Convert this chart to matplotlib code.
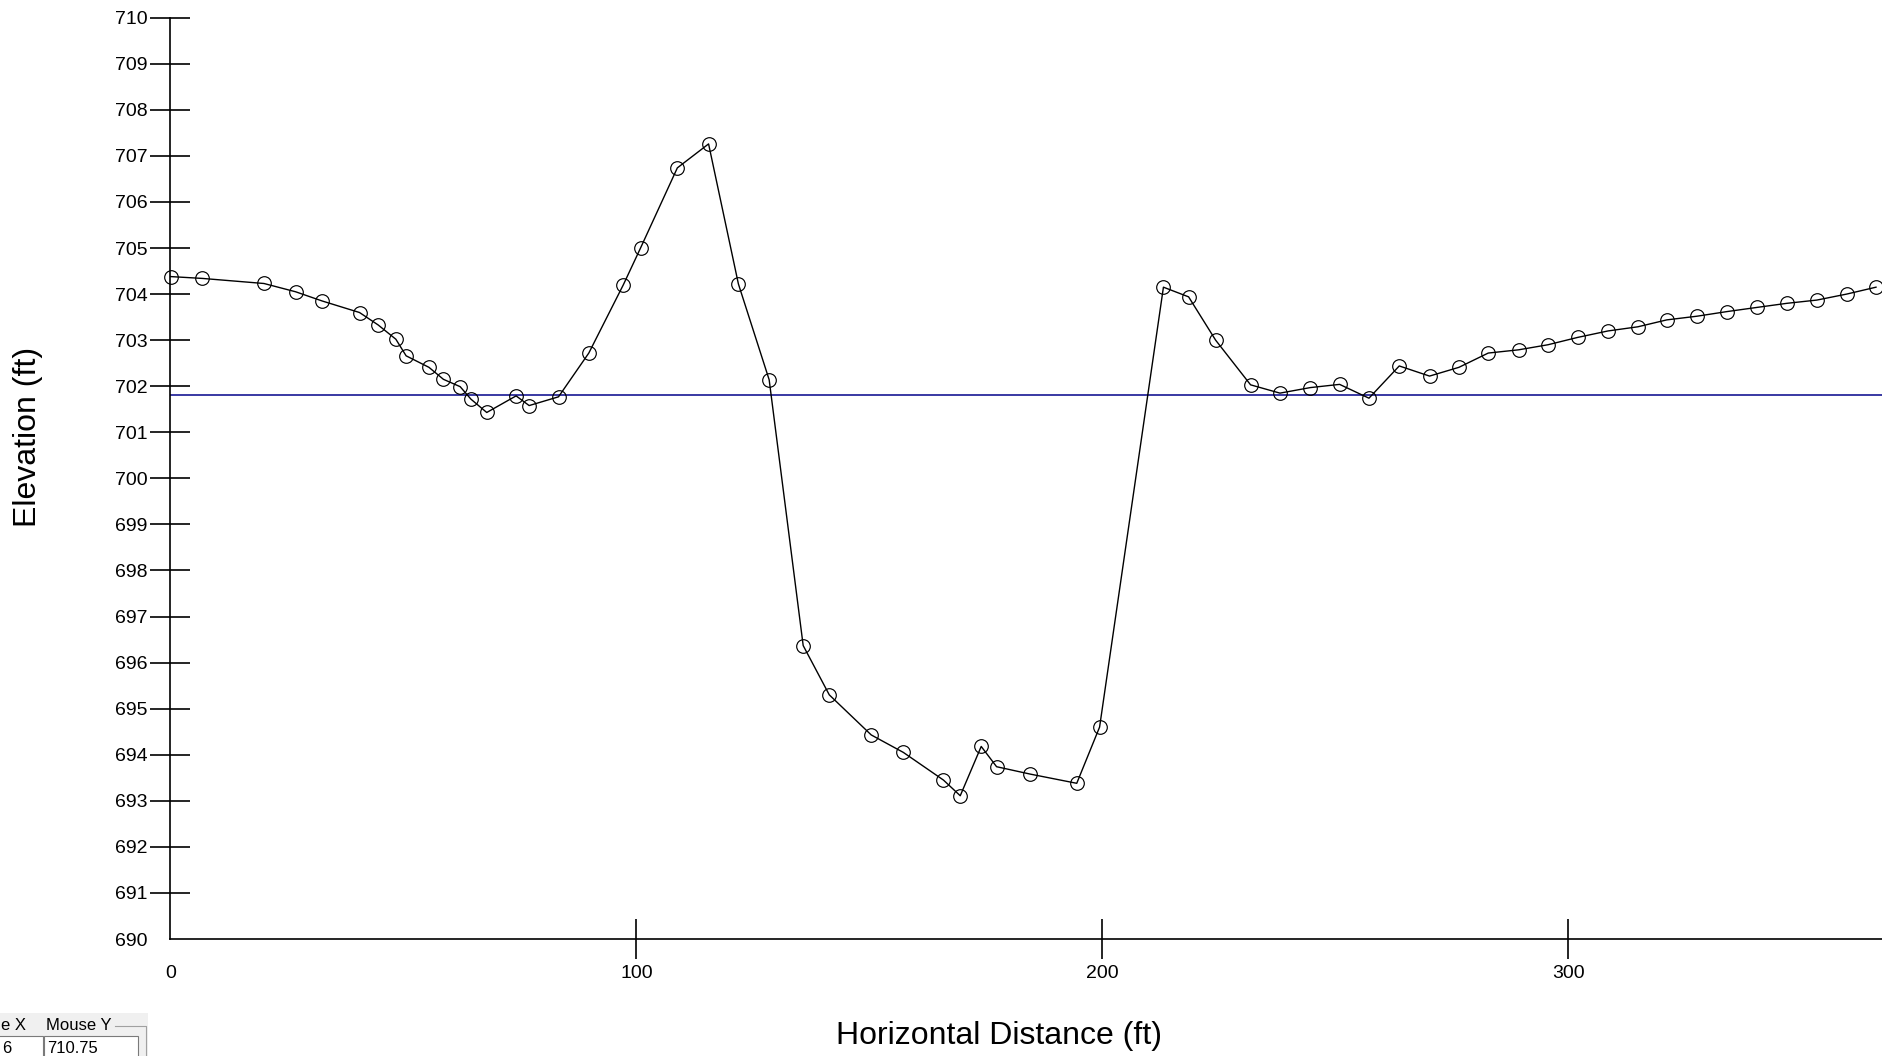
import matplotlib
matplotlib.use("Agg")
import matplotlib.pyplot as plt
from matplotlib.patches import Rectangle
from matplotlib.lines import Line2D

# ---- data ----
station = [0.1, 6.9, 20.1, 26.9, 32.6, 40.6, 44.6, 48.4, 50.6, 55.5, 58.6, 62.2,
           64.5, 67.9, 74.2, 77.0, 83.3, 89.8, 97.2, 100.9, 108.8, 115.5, 121.9,
           128.5, 135.8, 141.4, 150.4, 157.3, 165.9, 169.5, 174.0, 177.3, 184.5,
           194.5, 199.4, 213.1, 218.5, 224.3, 231.8, 238.1, 244.6, 250.9, 257.2,
           263.7, 270.2, 276.5, 282.8, 289.3, 295.6, 302.0, 308.5, 314.9, 321.1,
           327.6, 334.0, 340.4, 346.9, 353.3, 359.7, 366.0]
elevation = [704.38, 704.34, 704.23, 704.05, 703.85, 703.60, 703.33, 703.02,
             702.66, 702.41, 702.15, 701.99, 701.72, 701.43, 701.79, 701.58,
             701.77, 702.72, 704.20, 705.00, 706.74, 707.26, 704.22, 702.14,
             696.37, 695.30, 694.43, 694.05, 693.45, 693.11, 694.18, 693.74,
             693.58, 693.38, 694.60, 704.15, 703.94, 703.00, 702.03, 701.85,
             701.97, 702.04, 701.74, 702.44, 702.22, 702.41, 702.72, 702.79,
             702.90, 703.06, 703.20, 703.29, 703.44, 703.52, 703.62, 703.71,
             703.80, 703.87, 704.00, 704.15]
water_level = 701.80
x_ticks = [0, 100, 200, 300]
y_ticks = list(range(690, 711))
x_label = "Horizontal Distance (ft)"
y_label = "Elevation (ft)"

W, H = 1883, 1056
plt.rcParams['font.family'] = ['Liberation Sans', 'DejaVu Sans']
fig = plt.figure(figsize=(W / 100, H / 100), dpi=100)
fig.patch.set_facecolor('white')

left = 170.3 / W
bottom = 1 - 939 / H
top = 1 - 17.7 / H
ax = fig.add_axes([left, bottom, 1 - left, top - bottom])
ax.set_facecolor('white')

ax.axhline(water_level, color='#2a2a9c', lw=1.3, zorder=2)
ax.plot(station, elevation, color='black', lw=1.0, marker='o', markersize=9.8,
        markerfacecolor='none', markeredgecolor='black', markeredgewidth=0.85,
        zorder=3, clip_on=False)

ax.set_xlim(0, 367.5)
ax.set_ylim(690, 710)
ax.set_xticks(x_ticks)
ax.set_yticks(y_ticks)
ax.set_xticklabels([str(v) for v in x_ticks])
ax.set_yticklabels([str(v) for v in y_ticks])

for s in ['top', 'right']:
    ax.spines[s].set_visible(False)
for s in ['left', 'bottom']:
    ax.spines[s].set_linewidth(1.2)
    ax.spines[s].set_color('black')

ax.tick_params(axis='both', direction='inout', length=28.8, width=1.2,
               colors='black', labelsize=14)
ax.tick_params(axis='y', pad=2)
ax.tick_params(axis='x', pad=4)
# the reference draws no tick mark at the axis origin
ax.yaxis.get_major_ticks()[0].tick1line.set_visible(False)
ax.xaxis.get_major_ticks()[0].tick1line.set_visible(False)

ax.set_xlabel(x_label, fontsize=23, va='center')
ax.set_ylabel(y_label, fontsize=23, va='center')
ax.xaxis.set_label_coords((999 - 170.3) / (W - 170.3), (939 - 1036) / (939 - 17.7))
ax.yaxis.set_label_coords((28 - 170.3) / (W - 170.3), (939 - 437) / (939 - 17.7))

# ---- small "Mouse X / Mouse Y" widget at the bottom-left ----
def fx(px):
    return px / W

def fy(py):
    return 1 - py / H

fig.patches.append(Rectangle((fx(0), fy(1056)), fx(148), 43 / H,
                             transform=fig.transFigure, facecolor='#f0f0f0',
                             edgecolor='none', zorder=1))
fig.lines.append(Line2D([fx(115), fx(146), fx(146)], [fy(1026), fy(1026), fy(1056)],
                        transform=fig.transFigure, color='#a0a0a0', lw=0.8))
for x0, x1 in [(-2, 43), (44, 138)]:
    fig.patches.append(Rectangle((fx(x0), fy(1058)), fx(x1 - x0), 22 / H,
                                 transform=fig.transFigure, facecolor='white',
                                 edgecolor='#7a7a7a', lw=0.8, zorder=2))
fig.text(fx(1), fy(1025), "e X", fontsize=12, va='center', ha='left', zorder=3)
fig.text(fx(46), fy(1025), "Mouse Y", fontsize=12, va='center', ha='left', zorder=3)
fig.text(fx(2), fy(1053), "6", fontsize=12, va='baseline', ha='left', zorder=3)
fig.text(fx(47), fy(1053), "710.75", fontsize=12, va='baseline', ha='left', zorder=3)

fig.savefig("out.png", dpi=100)
